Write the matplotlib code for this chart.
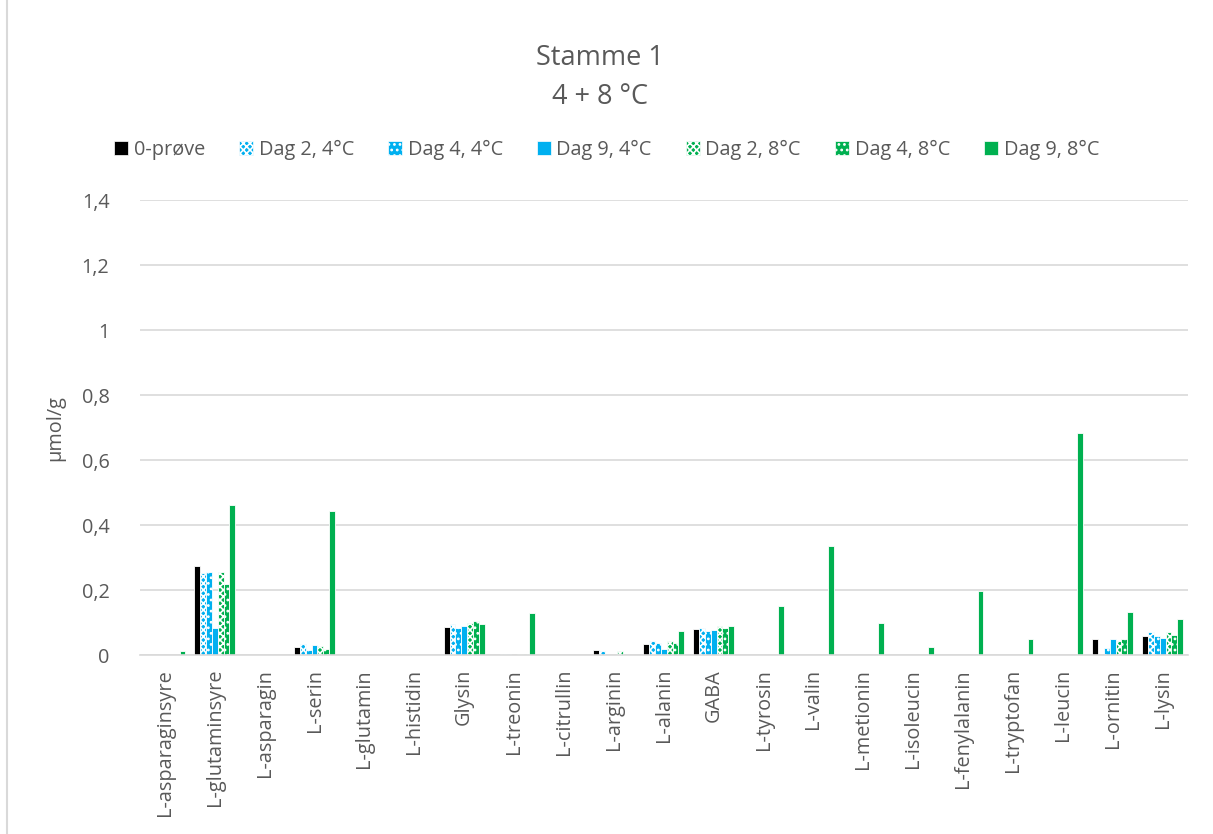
import matplotlib.pyplot as plt
import numpy as np
from matplotlib.patches import Patch
from matplotlib.lines import Line2D

plt.rcParams['font.family'] = ['Open Sans', 'DejaVu Sans']
plt.rcParams['hatch.linewidth'] = 1.2

kategorier = ['L-asparaginsyre', 'L-glutaminsyre', 'L-asparagin', 'L-serin', 'L-glutamin',
              'L-histidin', 'Glysin', 'L-treonin', 'L-citrullin', 'L-arginin', 'L-alanin',
              'GABA', 'L-tyrosin', 'L-valin', 'L-metionin', 'L-isoleucin', 'L-fenylalanin',
              'L-tryptofan', 'L-leucin', 'L-ornitin', 'L-lysin']

serier = ['0-prøve', 'Dag 2, 4°C', 'Dag 4, 4°C', 'Dag 9, 4°C', 'Dag 2, 8°C', 'Dag 4, 8°C', 'Dag 9, 8°C']

# verdier (µmol/g) lest av figuren
null_prove = [0, 0.274, 0, 0.025, 0, 0, 0.087, 0, 0, 0.014, 0.034, 0.081, 0, 0, 0, 0, 0, 0, 0, 0.048, 0.059]
dag2_4 = [0, 0.252, 0, 0.033, 0, 0, 0.095, 0.003, 0, 0.012, 0.043, 0.084, 0, 0, 0, 0, 0, 0, 0, 0, 0.070]
dag4_4 = [0, 0.256, 0, 0.015, 0, 0, 0.084, 0.003, 0, 0, 0.038, 0.074, 0, 0, 0, 0, 0, 0, 0, 0.021, 0.059]
dag9_4 = [0, 0.083, 0, 0.030, 0, 0, 0.089, 0, 0, 0, 0.018, 0.078, 0, 0, 0, 0, 0, 0, 0, 0.049, 0.053]
dag2_8 = [0, 0.255, 0, 0.027, 0, 0, 0.098, 0.003, 0, 0.013, 0.043, 0.089, 0, 0, 0, 0, 0, 0, 0, 0.042, 0.070]
dag4_8 = [0, 0.218, 0, 0.020, 0, 0, 0.105, 0.003, 0, 0, 0.038, 0.084, 0, 0, 0, 0, 0, 0, 0, 0.050, 0.061]
dag9_8 = [0.013, 0.461, 0, 0.443, 0, 0, 0.097, 0.128, 0, 0, 0.074, 0.089, 0.151, 0.335, 0.100,
          0.026, 0.197, 0.048, 0.683, 0.132, 0.110]

verdier = [null_prove, dag2_4, dag4_4, dag9_4, dag2_8, dag4_8, dag9_8]
farger = ['black', '#00B0F0', '#00B0F0', '#00B0F0', '#00B050', '#00B050', '#00B050']
monster = [None, 'xxxxx', '...', None, 'xxxxx', '...', None]

grå = '#595959'

fig = plt.figure(figsize=(12.13, 8.34), dpi=100)
ax = fig.add_axes([0.1154, 0.2146, 0.979 - 0.1154, 0.760 - 0.2146])

x = np.arange(len(kategorier))
b = 0.117
for i, (v, c, h) in enumerate(zip(verdier, farger, monster)):
    pos = x + (i - 3) * b
    if h is None:
        ax.bar(pos, v, width=b, color=c, edgecolor='white', linewidth=0.6)
    else:
        ax.bar(pos, v, width=b, color=c, edgecolor='white', linewidth=0.6, hatch=h)

ax.set_xlim(-0.5, len(kategorier) - 0.5)
ax.set_ylim(0, 1.4)
yt = [0, 0.2, 0.4, 0.6, 0.8, 1.0, 1.2, 1.4]
ax.set_yticks(yt)
ax.set_yticklabels(['0', '0,2', '0,4', '0,6', '0,8', '1', '1,2', '1,4'])
ax.set_xticks(x)
ax.set_xticklabels(kategorier, rotation=90)
ax.tick_params(axis='both', length=0, labelsize=14.3, colors=grå)
ax.tick_params(axis='y', pad=22)
ax.tick_params(axis='x', pad=10)
ax.grid(axis='y', color='#D9D9D9', linewidth=1.2)
ax.set_axisbelow(True)
for s in ['top', 'right', 'left']:
    ax.spines[s].set_visible(False)
ax.spines['bottom'].set_color('#D9D9D9')
ax.spines['bottom'].set_linewidth(1.2)
ax.set_ylabel('µmol/g', fontsize=14.3, color=grå, labelpad=12)

fig.text(0.495, 0.931, 'Stamme 1', ha='center', va='center', fontsize=19.5, color=grå)
fig.text(0.495, 0.884, '4 + 8 °C', ha='center', va='center', fontsize=19.5, color=grå)

handles = []
for c, h in zip(farger, monster):
    handles.append(Patch(facecolor=c, edgecolor='white', hatch=h, linewidth=0.5))
fig.legend(handles, serier, loc='center', bbox_to_anchor=(0.5, 0.82), ncol=7,
           frameon=False, fontsize=14.3, labelcolor=grå, handlelength=0.7,
           handleheight=0.7, handletextpad=0.3, columnspacing=1.7)

fig.add_artist(Line2D([7 / 1213, 7 / 1213], [0, 1], color='#D9D9D9', linewidth=1.5,
                      transform=fig.transFigure))

fig.savefig('out.png', dpi=100)
